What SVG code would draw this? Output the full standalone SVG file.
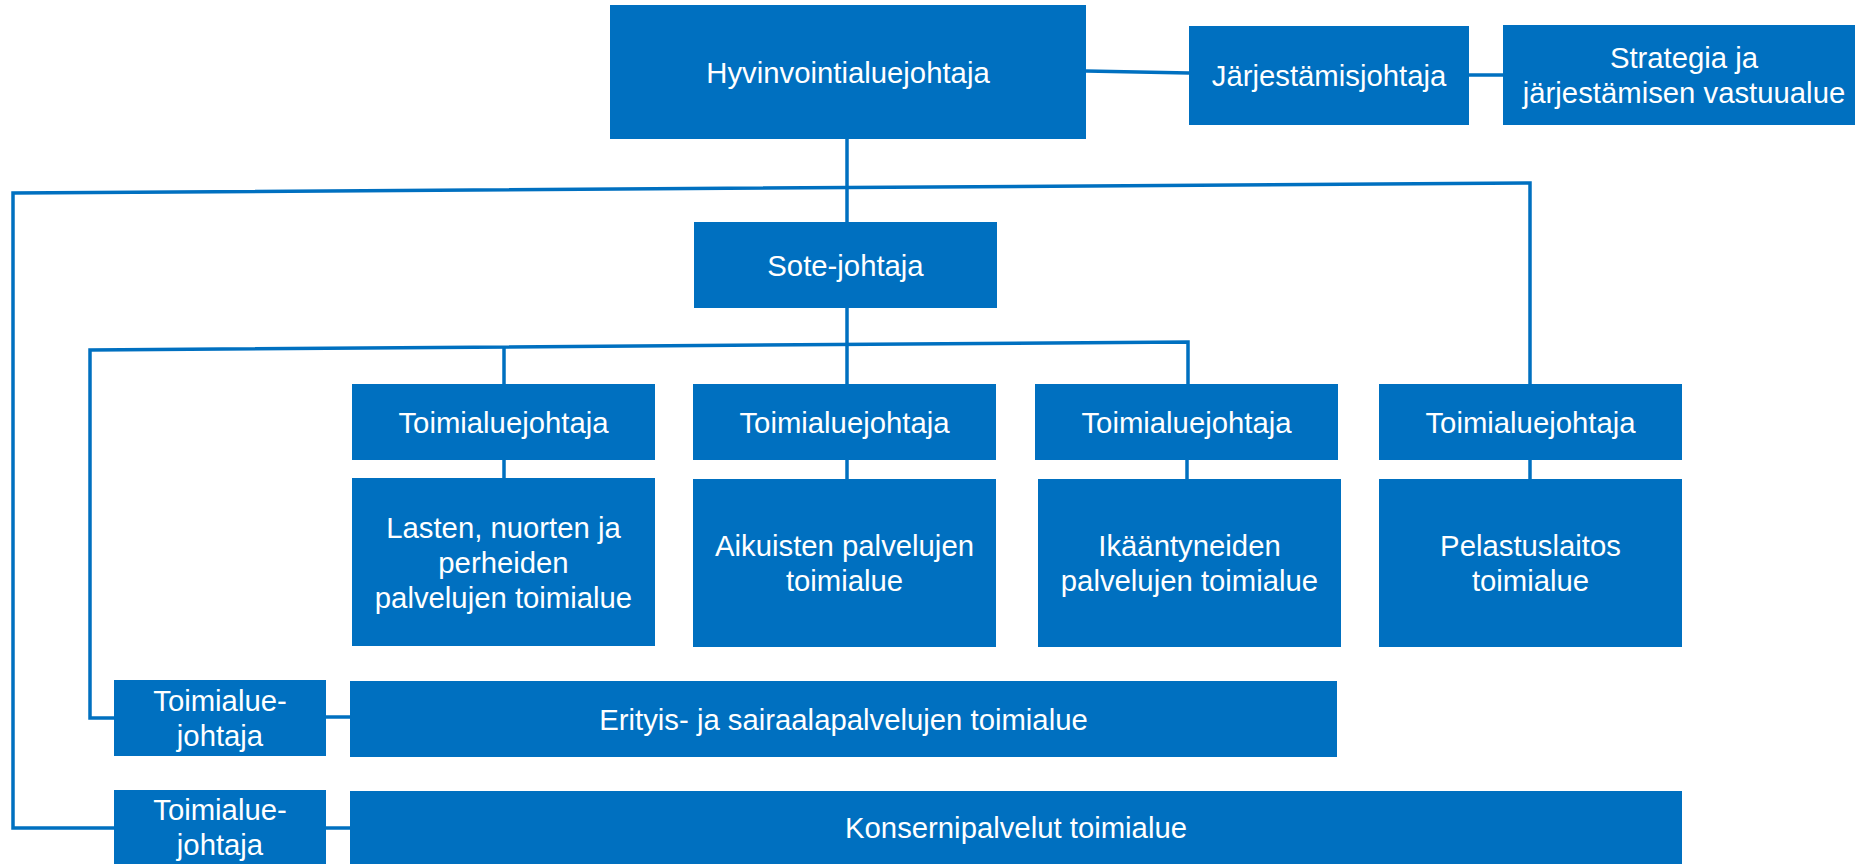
<svg xmlns="http://www.w3.org/2000/svg" width="1855" height="864" viewBox="0 0 1855 864">
<style>
.box{fill:#0070C0}
.t{font-family:"Liberation Sans",Arial,sans-serif;font-size:29.3px;fill:#FFFFFF;text-anchor:middle}
.c{fill:none;stroke:#0070C0;stroke-width:3.5}
</style>
<rect width="1855" height="864" fill="#FFFFFF"/>
<g id="connectors">
<path class="c" d="M1086 71 L1189 73"/>
<path class="c" d="M1469 75 L1503 75"/>
<path class="c" d="M847 139 V222"/>
<path class="c" d="M114 828 H13 V193 L1530 183 V384"/>
<path class="c" d="M847 308 V384"/>
<path class="c" d="M114 718 H90 V350 L1188 342 V384"/>
<path class="c" d="M504 347 V384"/>
<path class="c" d="M504 460 V478"/>
<path class="c" d="M847 460 V479"/>
<path class="c" d="M1187 460 V479"/>
<path class="c" d="M1530 460 V479"/>
<path class="c" d="M326 717 H350"/>
<path class="c" d="M326 828 H350"/>
</g>
<g id="hyvinvointialuejohtaja">
<rect class="box" x="610" y="5" width="476" height="134"/>
<text class="t" x="848" y="83">Hyvinvointialuejohtaja</text>
</g>
<g id="jarjestamisjohtaja">
<rect class="box" x="1189" y="26" width="280" height="99"/>
<text class="t" x="1329" y="86">Järjestämisjohtaja</text>
</g>
<g id="strategia">
<rect class="box" x="1503" y="25" width="352" height="100"/>
<text class="t" x="1684" y="68">Strategia ja</text>
<text class="t" x="1684" y="103">järjestämisen vastuualue</text>
</g>
<g id="sote-johtaja">
<rect class="box" x="694" y="222" width="303" height="86"/>
<text class="t" x="845.5" y="275.5">Sote-johtaja</text>
</g>
<g id="toimialuejohtaja1">
<rect class="box" x="352" y="384" width="303" height="76"/>
<text class="t" x="503.5" y="432.5">Toimialuejohtaja</text>
</g>
<g id="toimialuejohtaja2">
<rect class="box" x="693" y="384" width="303" height="76"/>
<text class="t" x="844.5" y="432.5">Toimialuejohtaja</text>
</g>
<g id="toimialuejohtaja3">
<rect class="box" x="1035" y="384" width="303" height="76"/>
<text class="t" x="1186.5" y="432.5">Toimialuejohtaja</text>
</g>
<g id="toimialuejohtaja4">
<rect class="box" x="1379" y="384" width="303" height="76"/>
<text class="t" x="1530.5" y="432.5">Toimialuejohtaja</text>
</g>
<g id="lasten">
<rect class="box" x="352" y="478" width="303" height="168"/>
<text class="t" x="503.5" y="537.5">Lasten, nuorten ja</text>
<text class="t" x="503.5" y="572.5">perheiden</text>
<text class="t" x="503.5" y="607.5">palvelujen toimialue</text>
</g>
<g id="aikuisten">
<rect class="box" x="693" y="479" width="303" height="168"/>
<text class="t" x="844.5" y="556">Aikuisten palvelujen</text>
<text class="t" x="844.5" y="591">toimialue</text>
</g>
<g id="ikaantyneiden">
<rect class="box" x="1038" y="479" width="303" height="168"/>
<text class="t" x="1189.5" y="556">Ikääntyneiden</text>
<text class="t" x="1189.5" y="591">palvelujen toimialue</text>
</g>
<g id="pelastuslaitos">
<rect class="box" x="1379" y="479" width="303" height="168"/>
<text class="t" x="1530.5" y="556">Pelastuslaitos</text>
<text class="t" x="1530.5" y="591">toimialue</text>
</g>
<g id="toimialuejohtaja5">
<rect class="box" x="114" y="680" width="212" height="76"/>
<text class="t" x="220" y="711">Toimialue-</text>
<text class="t" x="220" y="746">johtaja</text>
</g>
<g id="erityis">
<rect class="box" x="350" y="681" width="987" height="76"/>
<text class="t" x="843.5" y="729.5">Erityis- ja sairaalapalvelujen toimialue</text>
</g>
<g id="toimialuejohtaja6">
<rect class="box" x="114" y="790" width="212" height="74"/>
<text class="t" x="220" y="820">Toimialue-</text>
<text class="t" x="220" y="855">johtaja</text>
</g>
<g id="konserni">
<rect class="box" x="350" y="791" width="1332" height="73"/>
<text class="t" x="1016" y="838">Konsernipalvelut toimialue</text>
</g>
</svg>
